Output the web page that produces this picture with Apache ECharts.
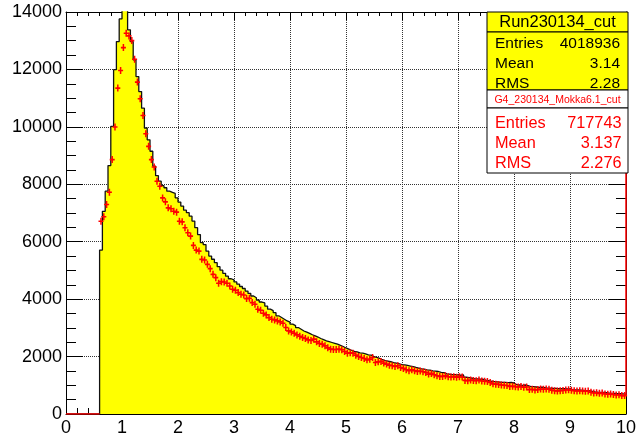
<!DOCTYPE html>
<html><head><meta charset="utf-8">
<script src="https://cdn.jsdelivr.net/npm/echarts@6/dist/echarts.min.js"></script>
<style>html,body{margin:0;padding:0;background:#fff}#c{width:639px;height:437px}</style>
</head><body><div id="c"></div>
<script>
// Histogram binning (x in units of the axis)
const binStart = 0.6;
const binWidth = 0.05;
const xTicks = [0,1,2,3,4,5,6,7,8,9,10];
const yTicks = [0,2000,4000,6000,8000,10000,12000,14000];

// Data histogram (yellow), bins 0.60 .. 10.00
const histValues = [
  5710,7060,7760,8650,10020,11990,12970,13760,14400,14300,
  13380,12970,12330,11750,11230,10650,9960,9550,9150,8630,
  8300,8110,7950,7880,7760,7720,7680,7530,7380,7240,
  7100,7010,6890,6720,6490,6250,5970,5900,5670,5500,
  5390,5270,5130,5010,4900,4800,4710,4670,4600,4520,
  4440,4370,4280,4200,4110,4050,3970,3900,3870,3760,
  3650,3600,3530,3420,3360,3300,3240,3200,3130,3080,
  3010,2950,2890,2850,2810,2760,2720,2680,2630,2590,
  2550,2520,2490,2460,2430,2390,2350,2300,2260,2220,
  2180,2160,2130,2120,2090,2060,2050,2000,1970,1940,
  1890,1860,1840,1820,1790,1770,1750,1720,1710,1690,
  1670,1650,1620,1600,1570,1560,1540,1530,1500,1490,
  1480,1450,1440,1400,1390,1370,1370,1360,1350,1360,
  1280,1270,1250,1220,1220,1210,1210,1180,1160,1140,
  1130,1120,1110,1100,1100,1090,1100,1080,1020,1010,
  1000,1010,990,950,950,940,930,935,920,900,
  900,890,890,880,885,880,870,870,850,840,
  840,830,820,810,810,790,770,760,755,750,
  740,730,720,720,710,705,700,695
];

// Simulation (red points), same bins 0.60 .. 10.00
const simValues = [
  6715,6867,7295,7723,8859,9994,11350,11962,12761,13259,
  13167,13004,12356,11558,10978,10398,9762,9321,8859,8604,
  8105,7931,7526,7389,7180,7150,7063,7029,6715,6692,
  6486,6312,6195,5871,5708,5673,5385,5361,5211,5062,
  4864,4749,4551,4610,4596,4551,4457,4343,4308,4227,
  4169,4145,4019,4030,3880,3821,3648,3613,3509,3451,
  3358,3300,3277,3242,3207,3161,3011,2894,2860,2814,
  2755,2710,2664,2630,2581,2560,2606,2512,2456,2432,
  2373,2303,2258,2247,2247,2258,2235,2178,2119,2131,
  2119,2050,2004,1970,1935,1886,1911,1970,1796,1817,
  1831,1772,1737,1702,1678,1657,1678,1622,1588,1539,
  1504,1539,1504,1483,1494,1470,1449,1390,1414,1365,
  1330,1310,1310,1330,1297,1290,1300,1280,1300,1290,
  1170,1160,1180,1170,1160,1180,1150,1140,1130,1100,
  1050,1040,1030,1010,1000,990,960,970,950,940,
  960,930,940,850,860,840,850,870,860,870,
  860,830,810,800,810,820,840,845,830,810,
  800,810,800,790,800,760,730,740,720,730,
  700,690,700,680,660,670,640,640
];
// empty simulation bins below binStart (drawn as a line on the axis)
const simZeroRange = [0, 0.6];
// red edge line at x = 10
const simEdgeLine = [640, 14000];

// Stats boxes
const stats1Title = "Run230134_cut";
const stats1Rows = [["Entries","4018936"],["Mean","3.14"],["RMS","2.28"]];
const stats2Title = "G4_230134_Mokka6.1_cut";
const stats2Rows = [["Entries","717743"],["Mean","3.137"],["RMS","2.276"]];

const FONT = "'Liberation Sans', Arial, Helvetica, sans-serif";

// build step data
const histData = [[0, 0]];
histValues.forEach((v, i) => histData.push([+(binStart + i * binWidth).toFixed(3), v]));
histData.push([+(binStart + histValues.length * binWidth).toFixed(3), histValues[histValues.length - 1]]);
const simData = simValues.map((v, i) => [+(binStart + (i + 0.5) * binWidth).toFixed(4), v]);

const chart = echarts.init(document.getElementById('c'), null, {renderer: 'canvas'});

const bx = 487, bw = 141;
const graphics = [
  {type:'rect', shape:{x:bx, y:12, width:bw, height:20}, style:{fill:'#ffff00', stroke:'#000', lineWidth:1}, z:100},
  {type:'rect', shape:{x:bx, y:32, width:bw, height:58}, style:{fill:'#ffff00', stroke:'#000', lineWidth:1}, z:100},
  {type:'rect', shape:{x:bx, y:90, width:bw, height:18}, style:{fill:'#fff', stroke:'#000', lineWidth:1}, z:100},
  {type:'rect', shape:{x:bx, y:108, width:bw, height:65}, style:{fill:'#fff', stroke:'#000', lineWidth:1}, z:100},
  {type:'text', x:557.5, y:22, z:101, style:{text:stats1Title, fill:'#000', font:'16.5px ' + FONT, align:'center', verticalAlign:'middle', textAlign:'center', textVerticalAlign:'middle'}},
  {type:'text', x:557.5, y:100, z:101, style:{text:stats2Title, fill:'#ff0000', font:'10.5px ' + FONT, align:'center', verticalAlign:'middle', textAlign:'center', textVerticalAlign:'middle'}}
];
stats1Rows.forEach((r, i) => {
  const y = 43.5 + i * 20;
  graphics.push({type:'text', x:495, y:y, z:101, style:{text:r[0], fill:'#000', font:'15.5px ' + FONT, align:'left', verticalAlign:'middle', textAlign:'left', textVerticalAlign:'middle'}});
  graphics.push({type:'text', x:620, y:y, z:101, style:{text:r[1], fill:'#000', font:'15.5px ' + FONT, align:'right', verticalAlign:'middle', textAlign:'right', textVerticalAlign:'middle'}});
});
stats2Rows.forEach((r, i) => {
  const y = 124 + i * 19.8;
  graphics.push({type:'text', x:495, y:y, z:101, style:{text:r[0], fill:'#ff0000', font:'16.3px ' + FONT, align:'left', verticalAlign:'middle', textAlign:'left', textVerticalAlign:'middle'}});
  graphics.push({type:'text', x:621.5, y:y, z:101, style:{text:r[1], fill:'#ff0000', font:'16.3px ' + FONT, align:'right', verticalAlign:'middle', textAlign:'right', textVerticalAlign:'middle'}});
});

chart.setOption({
  animation: false,
  backgroundColor: '#fff',
  grid: {left: 66, right: 11, top: 12, bottom: 22, show: false},
  xAxis: [
    {type:'value', min:xTicks[0], max:xTicks[xTicks.length-1], interval:1, position:'bottom',
     axisLine:{show:true, onZero:false, lineStyle:{color:'#000', width:1}},
     axisTick:{show:true, inside:true, length:12, lineStyle:{color:'#000'}},
     minorTick:{show:true, splitNumber:5, length:6, lineStyle:{color:'#000'}},
     axisLabel:{show:true, margin:5, color:'#000', fontSize:18, fontFamily:FONT,
       formatter: v => xTicks.includes(v) ? String(v) : ''},
     splitLine:{show:true, lineStyle:{color:'#333', type:'dotted', width:1}},
     minorSplitLine:{show:false}},
    {type:'value', min:0, max:10, interval:1, position:'top',
     axisLine:{show:true, onZero:false, lineStyle:{color:'#000', width:1}},
     axisTick:{show:true, inside:true, length:8, lineStyle:{color:'#000'}},
     minorTick:{show:true, splitNumber:5, length:4, lineStyle:{color:'#000'}},
     axisLabel:{show:false}, splitLine:{show:false}}
  ],
  yAxis: [
    {type:'value', min:yTicks[0], max:yTicks[yTicks.length-1], interval:2000, position:'left',
     axisLine:{show:true, onZero:false, lineStyle:{color:'#000', width:1}},
     axisTick:{show:true, inside:true, length:17, lineStyle:{color:'#000'}},
     minorTick:{show:true, splitNumber:4, length:10, lineStyle:{color:'#000'}},
     axisLabel:{show:true, margin:4, color:'#000', fontSize:18, fontFamily:FONT,
       formatter: v => yTicks.includes(v) ? String(v) : ''},
     splitLine:{show:true, lineStyle:{color:'#333', type:'dotted', width:1}}},
    {type:'value', min:0, max:14000, interval:2000, position:'right',
     axisLine:{show:true, onZero:false, lineStyle:{color:'#000', width:1}},
     axisTick:{show:true, inside:true, length:17, lineStyle:{color:'#000'}},
     minorTick:{show:true, splitNumber:4, length:10, lineStyle:{color:'#000'}},
     axisLabel:{show:false}, splitLine:{show:false}}
  ],
  series: [
    {type:'line', name:'hist', xAxisIndex:0, yAxisIndex:0, data:histData, step:'end',
     symbol:'none', clip:true, z:2,
     lineStyle:{color:'#111', width:1.3},
     areaStyle:{color:'#ffff00', opacity:1, origin:'start'}},
    {type:'line', name:'simZero', data:[[simZeroRange[0],0],[simZeroRange[1],0]], symbol:'none',
     lineStyle:{color:'#ff0000', width:1.5}, z:3},
    {type:'line', name:'simEdge', data:[[10,simEdgeLine[0]],[10,simEdgeLine[1]]], symbol:'none',
     lineStyle:{color:'#ff0000', width:1.5}, z:3},
    {type:'scatter', name:'sim', data:simData, z:4,
     symbol:'path://M2.1,0H3.9V2.7H6V4.3H3.9V7H2.1V4.3H0V2.7H2.1Z', symbolSize:[5,7],
     itemStyle:{color:'#ff0000', opacity:1}}
  ],
  graphic: {elements: graphics}
});
</script>
</body></html>
